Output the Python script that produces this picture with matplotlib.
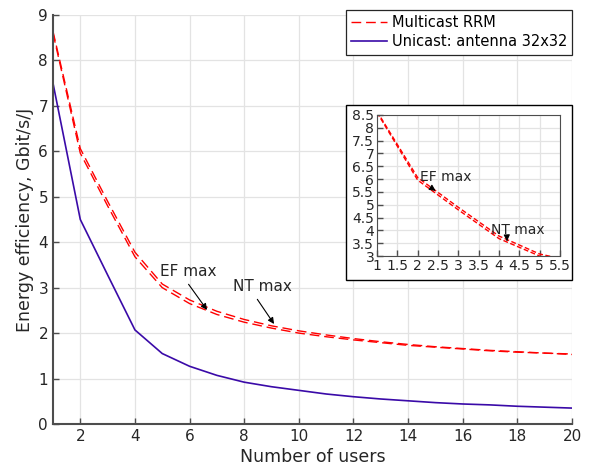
import matplotlib
matplotlib.use("Agg")
import matplotlib.pyplot as plt
from matplotlib.patches import Rectangle

# data
users = list(range(1, 21))
ef_max = [8.64, 6.06, 4.90, 3.78, 3.08, 2.73, 2.48, 2.30, 2.16, 2.05,
          1.96, 1.88, 1.81, 1.75, 1.70, 1.66, 1.62, 1.59, 1.56, 1.54]
nt_max = [8.60, 5.96, 4.80, 3.68, 3.00, 2.65, 2.41, 2.24, 2.11, 2.00,
          1.92, 1.85, 1.79, 1.73, 1.69, 1.65, 1.61, 1.58, 1.56, 1.53]
unicast = [7.50, 4.50, 3.28, 2.07, 1.55, 1.27, 1.07, 0.92, 0.82, 0.74,
           0.66, 0.60, 0.55, 0.51, 0.47, 0.44, 0.42, 0.39, 0.37, 0.35]

inset_xticks = [1, 1.5, 2, 2.5, 3, 3.5, 4, 4.5, 5, 5.5]
inset_yticks = [3, 3.5, 4, 4.5, 5, 5.5, 6, 6.5, 7, 7.5, 8, 8.5]

red = "#ff0000"
blue = "#3a0aa8"
grid_c = "#e3e3e3"
axis_c = "#4d4d4d"
text_c = "#262626"

plt.rcParams['font.family'] = ['DejaVu Sans']


def style_axes(ax, fs):
    ax.grid(True, color=grid_c, lw=0.9)
    ax.set_axisbelow(True)
    ax.tick_params(direction='in', colors=axis_c, labelcolor=text_c,
                   labelsize=fs, length=4, width=1)
    for s in ax.spines.values():
        s.set_color(axis_c)


def fmt(v):
    return ("%g" % v)


fig = plt.figure(figsize=(5.9, 4.75), dpi=100)
ax = fig.add_axes([0.0898, 0.1074, 0.8797, 0.861])
style_axes(ax, 11)
l1, = ax.plot(users, ef_max, color=red, lw=1.0, dashes=(7, 3.5),
              label="Multicast RRM")
ax.plot(users, nt_max, color=red, lw=1.0, dashes=(7, 3.5))
l2, = ax.plot(users, unicast, color=blue, lw=1.2,
              label="Unicast: antenna 32x32")
ax.set_xlim(1, 20)
ax.set_ylim(0, 9)
ax.set_xticks(range(2, 21, 2))
ax.set_yticks(range(0, 10))
ax.spines['top'].set_visible(False)
ax.spines['right'].set_visible(False)
ax.spines['left'].set_linewidth(1.5)
ax.spines['bottom'].set_linewidth(1.5)
ax.set_xlabel("Number of users", fontsize=12.5, color=text_c, labelpad=3)
ax.set_ylabel("Energy efficiency, Gbit/s/J", fontsize=12.5, color=text_c,
              labelpad=3)

arrow = dict(arrowstyle='-|>', color='k', lw=0.8, mutation_scale=9)
ax.annotate("EF max", xy=(6.7, 2.46), xytext=(4.9, 3.35), fontsize=11,
            color=text_c, va='center', arrowprops=dict(arrow, relpos=(0.45, 0)))
ax.annotate("NT max", xy=(9.15, 2.15), xytext=(7.6, 3.02), fontsize=11,
            color=text_c, va='center', arrowprops=dict(arrow, relpos=(0.35, 0)))

leg = ax.legend(handles=[l1, l2], loc='upper right',
                bbox_to_anchor=(572 / 590, 1 - 10 / 475),
                bbox_transform=fig.transFigure, fontsize=10.5,
                fancybox=False, framealpha=1, edgecolor='#262626',
                handlelength=2.45, handletextpad=0.3, borderpad=0.35,
                labelspacing=0.3, borderaxespad=0)
leg.get_frame().set_linewidth(0.9)

# white box behind the inset
fig.patches.append(Rectangle((346 / 590, 1 - 280 / 475), 226 / 590, 175 / 475,
                             transform=fig.transFigure, facecolor='white',
                             edgecolor='k', lw=1.0, zorder=5))

ins = fig.add_axes([0.639, 0.461, 0.310, 0.297], zorder=6)
style_axes(ins, 10)
ins.plot(users, ef_max, color=red, lw=1.0, dashes=(3.5, 1.8))
ins.plot(users, nt_max, color=red, lw=1.0, dashes=(3.5, 1.8))
ins.set_xlim(1, 5.5)
ins.set_ylim(3, 8.5)
ins.set_xticks(inset_xticks)
ins.set_xticklabels([fmt(v) for v in inset_xticks])
ins.set_yticks(inset_yticks)
ins.set_yticklabels([fmt(v) for v in inset_yticks])
ins.tick_params(pad=2)
ins.annotate("EF max", xy=(2.5, 5.48), xytext=(2.05, 6.1), fontsize=10,
             color=text_c, va='center', arrowprops=dict(arrow, relpos=(0.1, 0)))
ins.annotate("NT max", xy=(4.2, 3.58), xytext=(3.8, 4.0), fontsize=10,
             color=text_c, va='center', arrowprops=dict(arrow, relpos=(0.3, 0)))

fig.savefig("out.png", dpi=100)
